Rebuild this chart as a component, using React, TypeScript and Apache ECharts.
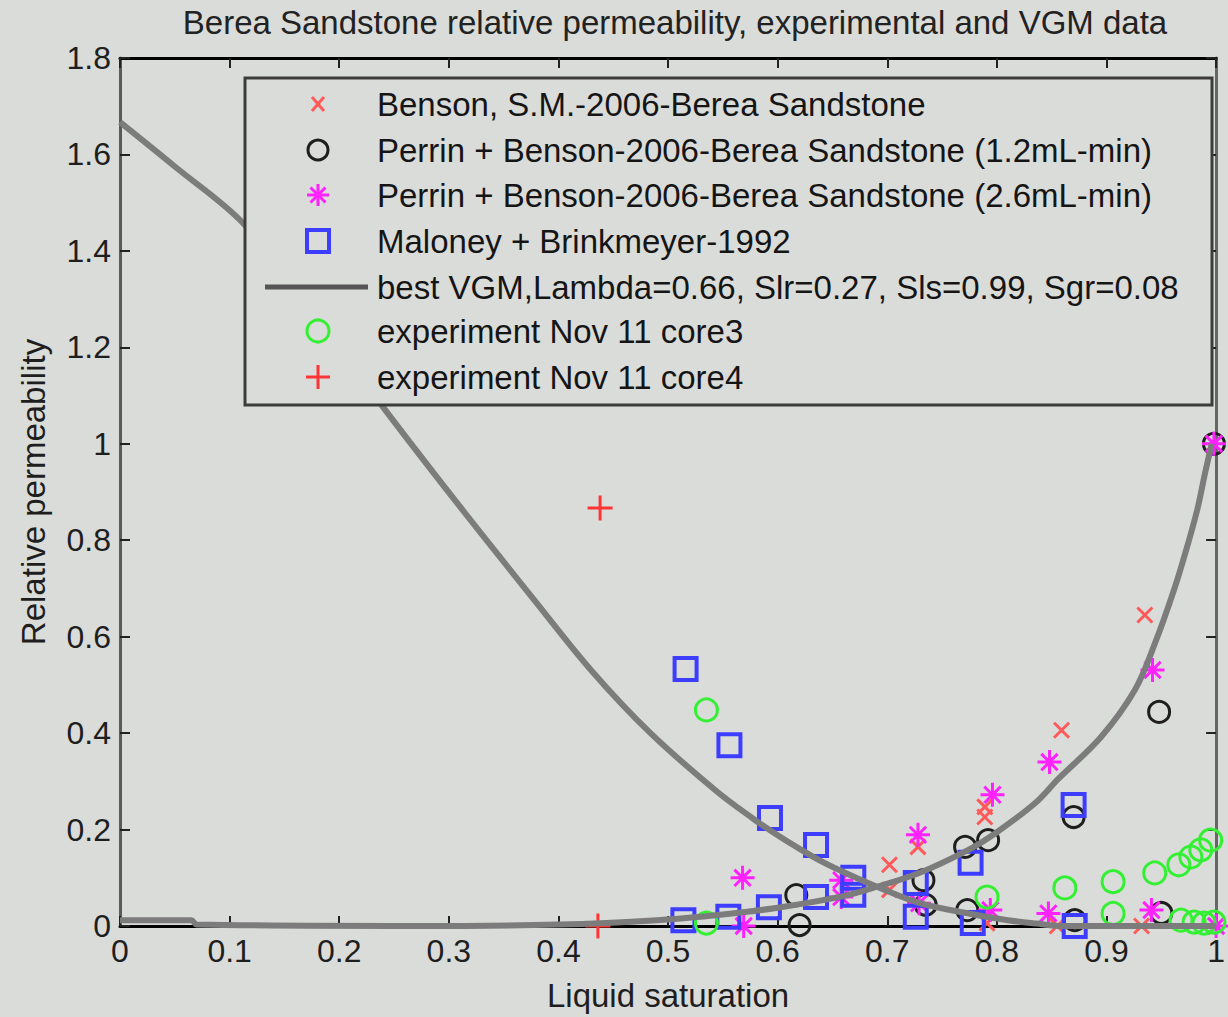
import React, { useEffect, useRef } from "react";
import * as echarts from "echarts";

const TITLE = "Berea Sandstone relative permeability, experimental and VGM data";
const X_NAME = "Liquid saturation";
const Y_NAME = "Relative permeability";
const LEGEND_LABELS = [
  "Benson, S.M.-2006-Berea Sandstone",
  "Perrin + Benson-2006-Berea Sandstone (1.2mL-min)",
  "Perrin + Benson-2006-Berea Sandstone (2.6mL-min)",
  "Maloney + Brinkmeyer-1992",
  "best VGM,Lambda=0.66, Slr=0.27, Sls=0.99, Sgr=0.08",
  "experiment Nov 11 core3",
  "experiment Nov 11 core4",
];

const X_MIN = 0, X_MAX = 1, X_STEP = 0.1;
const Y_MIN = 0, Y_MAX = 1.8, Y_STEP = 0.2;

const benson = [
  [0.702, 0.127], [0.702, 0.075], [0.728, 0.164], [0.789, 0.247], [0.789, 0.226],
  [0.791, 0.006], [0.859, 0.406], [0.935, 0.645], [0.855, 0.0], [0.932, 0.0],
];
const perrin12 = [
  [0.617, 0.064], [0.62, 0.002], [0.733, 0.095], [0.735, 0.044], [0.771, 0.164],
  [0.792, 0.178], [0.773, 0.033], [0.87, 0.226], [0.871, 0.012], [0.948, 0.444],
  [0.95, 0.027], [0.998, 1.0],
];
const perrin26 = [
  [0.568, 0.1], [0.569, 0.0], [0.658, 0.095], [0.658, 0.06], [0.728, 0.189],
  [0.729, 0.047], [0.796, 0.272], [0.794, 0.033], [0.848, 0.34], [0.847, 0.026],
  [0.942, 0.531], [0.941, 0.033], [0.998, 1.0], [1.0, 0.0],
];
const maloney = [
  [0.516, 0.533], [0.556, 0.375], [0.593, 0.224], [0.635, 0.168], [0.669, 0.1],
  [0.669, 0.065], [0.635, 0.06], [0.592, 0.039], [0.555, 0.019], [0.514, 0.012],
  [0.726, 0.089], [0.726, 0.019], [0.776, 0.131], [0.778, 0.006], [0.87, 0.251],
  [0.871, 0.0],
];
const vgmGas = [
  [0, 1.667], [0.05, 1.575], [0.113, 1.456], [0.17, 1.29], [0.24, 1.076],
  [0.31, 0.87], [0.378, 0.676], [0.43, 0.53], [0.484, 0.4], [0.544, 0.28],
  [0.578, 0.222], [0.6, 0.188], [0.62, 0.16], [0.64, 0.134], [0.66, 0.112],
  [0.69, 0.082], [0.729, 0.048], [0.774, 0.026], [0.81, 0.012], [0.836, 0.005],
  [0.86, 0.0], [1.0, 0.0],
];
const vgmLiquid = [
  [0, 0.012], [0.065, 0.012], [0.07, 0.003], [0.27, 0.0], [0.4, 0.003],
  [0.49, 0.012], [0.55, 0.024], [0.6, 0.038], [0.66, 0.062], [0.69, 0.081],
  [0.729, 0.11], [0.774, 0.158], [0.799, 0.193], [0.835, 0.255], [0.856, 0.305],
  [0.895, 0.392], [0.926, 0.49], [0.944, 0.585], [0.962, 0.7], [0.974, 0.79],
  [0.983, 0.865], [0.99, 0.94], [0.996, 1.0],
];
const core3 = [
  [0.535, 0.448], [0.535, 0.006], [0.791, 0.06], [0.862, 0.079], [0.906, 0.092],
  [0.906, 0.026], [0.944, 0.11], [0.966, 0.127], [0.977, 0.143], [0.986, 0.158],
  [0.995, 0.178], [0.968, 0.012], [0.98, 0.008], [0.989, 0.006], [0.998, 0.008],
];
const core4 = [
  [0.438, 0.867], [0.436, 0.0],
];

const BG = "#dadcd9";
const FONT = "'Liberation Sans', Arial, sans-serif";
const X_PATH = "path://M0,0L10,10M10,0L0,10";
const PLUS_PATH = "path://M5,0L5,10M0,5L10,5";
const STAR_PATH = "path://M5,0L5,10M0,5L10,5M1.6,1.6L8.4,8.4M8.4,1.6L1.6,8.4";

const C_RED_X = "#ff5a5a";
const C_BLACK = "#1e1e1e";
const C_MAG = "#ff22ff";
const C_BLUE = "#3d3dff";
const C_GREEN = "#33f033";
const C_RED_P = "#ff3535";
const C_CURVE = "#7c7c7c";

function scatter(name: string, data: number[][], symbol: string, size: number, color: string, width: number) {
  return {
    type: "scatter",
    name,
    data,
    symbol,
    symbolSize: size,
    itemStyle: { color: "transparent", borderColor: color, borderWidth: width, opacity: 1 },
    emphasis: { disabled: true },
    silent: true,
  };
}

function curve(name: string, data: number[][]) {
  return {
    type: "line",
    name,
    data,
    showSymbol: false,
    smooth: 0.35,
    lineStyle: { color: C_CURVE, width: 6 },
    emphasis: { disabled: true },
    silent: true,
  };
}

function legendGraphic() {
  const rows = [104, 150, 195, 241, 287, 331, 377];
  const mx = 318;
  const els: any[] = [
    {
      type: "rect",
      shape: { x: 245, y: 78, width: 967, height: 327 },
      style: { fill: BG, stroke: "#3c3c3c", lineWidth: 3 },
      z: 100,
    },
  ];
  const ln = (x1: number, y1: number, x2: number, y2: number, stroke: string, w: number) => ({
    type: "line",
    shape: { x1, y1, x2, y2 },
    style: { stroke, lineWidth: w },
    z: 101,
  });
  els.push(ln(mx - 6, rows[0] - 7, mx + 6, rows[0] + 7, C_RED_X, 3));
  els.push(ln(mx + 6, rows[0] - 7, mx - 6, rows[0] + 7, C_RED_X, 3));
  els.push({ type: "circle", shape: { cx: mx, cy: rows[1], r: 10 }, style: { fill: "none", stroke: C_BLACK, lineWidth: 3 }, z: 101 });
  const r3 = 11, d3 = 7.5;
  els.push(ln(mx, rows[2] - r3, mx, rows[2] + r3, C_MAG, 3));
  els.push(ln(mx - r3, rows[2], mx + r3, rows[2], C_MAG, 3));
  els.push(ln(mx - d3, rows[2] - d3, mx + d3, rows[2] + d3, C_MAG, 3));
  els.push(ln(mx + d3, rows[2] - d3, mx - d3, rows[2] + d3, C_MAG, 3));
  els.push({ type: "rect", shape: { x: mx - 11, y: rows[3] - 11, width: 22, height: 22 }, style: { fill: "none", stroke: C_BLUE, lineWidth: 4 }, z: 101 });
  els.push(ln(265, rows[4], 368, rows[4], "#555555", 5));
  els.push({ type: "circle", shape: { cx: mx, cy: rows[5], r: 11 }, style: { fill: "none", stroke: C_GREEN, lineWidth: 3 }, z: 101 });
  els.push(ln(mx, rows[6] - 12, mx, rows[6] + 12, C_RED_P, 3));
  els.push(ln(mx - 12, rows[6], mx + 12, rows[6], C_RED_P, 3));
  LEGEND_LABELS.forEach((t, i) => {
    els.push({
      type: "text",
      x: 377,
      y: rows[i],
      style: { text: t, fontSize: 33, fontFamily: FONT, fill: "#151515", align: "left", verticalAlign: "middle" },
      z: 102,
    });
  });
  return els;
}

export default function App() {
  const ref = useRef<HTMLDivElement>(null);
  useEffect(() => {
    if (!ref.current) return;
    const chart = echarts.init(ref.current, undefined, { renderer: "svg" });
    const axisLabelStyle = { color: "#1e1e1e", fontSize: 32, fontFamily: FONT };
    chart.setOption({
      animation: false,
      backgroundColor: BG,
      title: {
        text: TITLE,
        left: 670,
        top: 1,
        textAlign: "center",
        textStyle: { color: "#222", fontSize: 33, fontWeight: "normal", fontFamily: FONT },
      },
      grid: { left: 120, right: 6, top: 58, bottom: 91, containLabel: false },
      xAxis: [
        {
          type: "value",
          min: X_MIN,
          max: X_MAX,
          interval: X_STEP,
          position: "bottom",
          name: X_NAME,
          nameLocation: "middle",
          nameGap: 53,
          nameTextStyle: { color: "#1e1e1e", fontSize: 33, fontFamily: FONT },
          axisLine: { show: true, onZero: false, lineStyle: { color: "#000", width: 3 } },
          axisTick: { show: true, inside: true, length: 10, lineStyle: { color: "#222", width: 2 } },
          axisLabel: { ...axisLabelStyle, margin: 9 },
          splitLine: { show: false },
        },
        {
          type: "value",
          min: X_MIN,
          max: X_MAX,
          interval: X_STEP,
          position: "top",
          axisLine: { show: true, onZero: false, lineStyle: { color: "#000", width: 3 } },
          axisTick: { show: true, inside: true, length: 10, lineStyle: { color: "#222", width: 2 } },
          axisLabel: { show: false },
          splitLine: { show: false },
        },
      ],
      yAxis: [
        {
          type: "value",
          min: Y_MIN,
          max: Y_MAX,
          interval: Y_STEP,
          position: "left",
          name: Y_NAME,
          nameLocation: "middle",
          nameGap: 70,
          nameRotate: 90,
          nameTextStyle: { color: "#1e1e1e", fontSize: 33, fontFamily: FONT },
          axisLine: { show: true, onZero: false, lineStyle: { color: "#5a5a5a", width: 3 } },
          axisTick: { show: true, inside: true, length: 10, lineStyle: { color: "#222", width: 2 } },
          axisLabel: { ...axisLabelStyle, margin: 9 },
          splitLine: { show: false },
        },
        {
          type: "value",
          min: Y_MIN,
          max: Y_MAX,
          interval: Y_STEP,
          position: "right",
          axisLine: { show: true, onZero: false, lineStyle: { color: "#666", width: 3 } },
          axisTick: { show: true, inside: true, length: 10, lineStyle: { color: "#222", width: 2 } },
          axisLabel: { show: false },
          splitLine: { show: false },
        },
      ],
      series: [
        scatter(LEGEND_LABELS[0], benson, X_PATH, 15, C_RED_X, 3),
        scatter(LEGEND_LABELS[1], perrin12, "circle", 21, C_BLACK, 3),
        scatter(LEGEND_LABELS[2], perrin26, STAR_PATH, 24, C_MAG, 3),
        scatter(LEGEND_LABELS[3], maloney, "rect", 22, C_BLUE, 4),
        curve(LEGEND_LABELS[4], vgmGas),
        curve(LEGEND_LABELS[4] + " (liquid)", vgmLiquid),
        scatter(LEGEND_LABELS[5], core3, "circle", 22, C_GREEN, 3),
        scatter(LEGEND_LABELS[6], core4, PLUS_PATH, 25, C_RED_P, 3),
      ],
      graphic: legendGraphic(),
    });
    return () => chart.dispose();
  }, []);
  return (
    <div
      ref={ref}
      style={{ position: "fixed", left: 0, top: 0, width: 1228, height: 1017, background: BG }}
    />
  );
}
